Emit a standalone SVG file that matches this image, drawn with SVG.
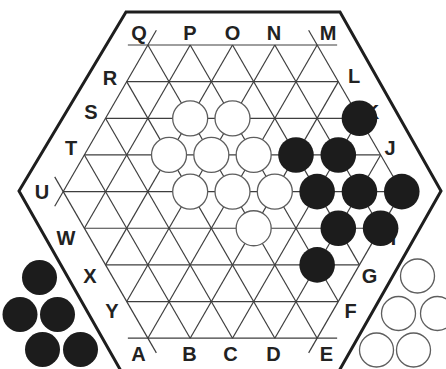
<svg xmlns="http://www.w3.org/2000/svg" width="446" height="369" viewBox="0 0 446 369">
<style>
.frame{fill:none;stroke:#1e1e1e;stroke-width:3;stroke-linejoin:miter}
.g line{stroke:#3e3e3e;stroke-width:1.2}
.lbl{font-family:"Liberation Sans",Arial,sans-serif;font-weight:bold;font-size:20px;fill:#222;text-anchor:middle}
.b{fill:#1c1c1c}
.w{fill:#fff;stroke:#5e5e5e;stroke-width:1.3}
</style>
<rect width="446" height="369" fill="#fff"/>
<g id="frame"><polygon class="frame" points="126,12 340,12 441,191 339,371 121,371 19,191"/></g>
<g id="labels">
<text class="lbl" x="139" y="40">Q</text>
<text class="lbl" x="190" y="40">P</text>
<text class="lbl" x="232.5" y="40">O</text>
<text class="lbl" x="274" y="40">N</text>
<text class="lbl" x="328" y="40">M</text>
<text class="lbl" x="110" y="85">R</text>
<text class="lbl" x="91" y="119">S</text>
<text class="lbl" x="71" y="155">T</text>
<text class="lbl" x="42" y="199">U</text>
<text class="lbl" x="66" y="245">W</text>
<text class="lbl" x="90" y="283">X</text>
<text class="lbl" x="112" y="318">Y</text>
<text class="lbl" x="138.5" y="361">A</text>
<text class="lbl" x="189.5" y="361">B</text>
<text class="lbl" x="230.5" y="361">C</text>
<text class="lbl" x="273.5" y="361">D</text>
<text class="lbl" x="326.5" y="361">E</text>
<text class="lbl" x="350.5" y="318">F</text>
<text class="lbl" x="369.5" y="283">G</text>
<text class="lbl" x="389" y="245">H</text>
<text class="lbl" x="390" y="155">J</text>
<text class="lbl" x="372" y="119">K</text>
<text class="lbl" x="354" y="83">L</text>
</g>
<g id="grid" class="g">
<line x1="127.86" y1="45" x2="337.14" y2="45"/>
<line x1="126.70" y1="81.65" x2="338.30" y2="81.65"/>
<line x1="105.54" y1="118.3" x2="359.46" y2="118.3"/>
<line x1="84.38" y1="154.95" x2="380.62" y2="154.95"/>
<line x1="63.22" y1="191.6" x2="401.78" y2="191.6"/>
<line x1="84.38" y1="228.25" x2="380.62" y2="228.25"/>
<line x1="105.54" y1="264.9" x2="359.46" y2="264.9"/>
<line x1="126.70" y1="301.55" x2="338.30" y2="301.55"/>
<line x1="127.86" y1="338.2" x2="337.14" y2="338.2"/>
<line x1="54.72" y1="206.32" x2="156.36" y2="30.28"/>
<line x1="84.38" y1="228.25" x2="190.18" y2="45"/>
<line x1="105.54" y1="264.9" x2="232.5" y2="45"/>
<line x1="126.70" y1="301.55" x2="274.82" y2="45"/>
<line x1="147.86" y1="338.2" x2="317.14" y2="45"/>
<line x1="190.18" y1="338.2" x2="338.30" y2="81.65"/>
<line x1="232.5" y1="338.2" x2="359.46" y2="118.3"/>
<line x1="274.82" y1="338.2" x2="380.62" y2="154.95"/>
<line x1="308.64" y1="352.92" x2="410.28" y2="176.88"/>
<line x1="410.28" y1="206.32" x2="308.64" y2="30.28"/>
<line x1="380.62" y1="228.25" x2="274.82" y2="45"/>
<line x1="359.46" y1="264.9" x2="232.5" y2="45"/>
<line x1="338.30" y1="301.55" x2="190.18" y2="45"/>
<line x1="317.14" y1="338.2" x2="147.86" y2="45"/>
<line x1="274.82" y1="338.2" x2="126.70" y2="81.65"/>
<line x1="232.5" y1="338.2" x2="105.54" y2="118.3"/>
<line x1="190.18" y1="338.2" x2="84.38" y2="154.95"/>
<line x1="156.36" y1="352.92" x2="54.72" y2="176.88"/>
</g>
<g id="white-stones">
<circle class="w" cx="190.18" cy="118.3" r="17.5"/>
<circle class="w" cx="232.5" cy="118.3" r="17.5"/>
<circle class="w" cx="169.02" cy="154.95" r="17.5"/>
<circle class="w" cx="211.34" cy="154.95" r="17.5"/>
<circle class="w" cx="253.66" cy="154.95" r="17.5"/>
<circle class="w" cx="190.18" cy="191.6" r="17.5"/>
<circle class="w" cx="232.5" cy="191.6" r="17.5"/>
<circle class="w" cx="274.82" cy="191.6" r="17.5"/>
<circle class="w" cx="253.66" cy="228.25" r="17.5"/>
</g>
<g id="black-stones">
<circle class="b" cx="359.46" cy="118.3" r="17.8"/>
<circle class="b" cx="295.98" cy="154.95" r="17.8"/>
<circle class="b" cx="338.30" cy="154.95" r="17.8"/>
<circle class="b" cx="317.14" cy="191.6" r="17.8"/>
<circle class="b" cx="359.46" cy="191.6" r="17.8"/>
<circle class="b" cx="401.78" cy="191.6" r="17.8"/>
<circle class="b" cx="338.30" cy="228.25" r="17.8"/>
<circle class="b" cx="380.62" cy="228.25" r="17.8"/>
<circle class="b" cx="317.14" cy="264.9" r="17.8"/>
</g>
<g id="black-reserve">
<circle class="b" cx="39.5" cy="277.5" r="17.5"/>
<circle class="b" cx="20" cy="314.5" r="17.5"/>
<circle class="b" cx="57.5" cy="314.5" r="17.5"/>
<circle class="b" cx="42.5" cy="349.5" r="17.5"/>
<circle class="b" cx="80.5" cy="349.5" r="17.5"/>
</g>
<g id="white-reserve">
<circle class="w" cx="417.5" cy="276" r="17"/>
<circle class="w" cx="398.5" cy="313.5" r="17"/>
<circle class="w" cx="437.5" cy="313.5" r="17"/>
<circle class="w" cx="376.5" cy="350" r="17"/>
<circle class="w" cx="413.5" cy="350" r="17"/>
</g>
</svg>
